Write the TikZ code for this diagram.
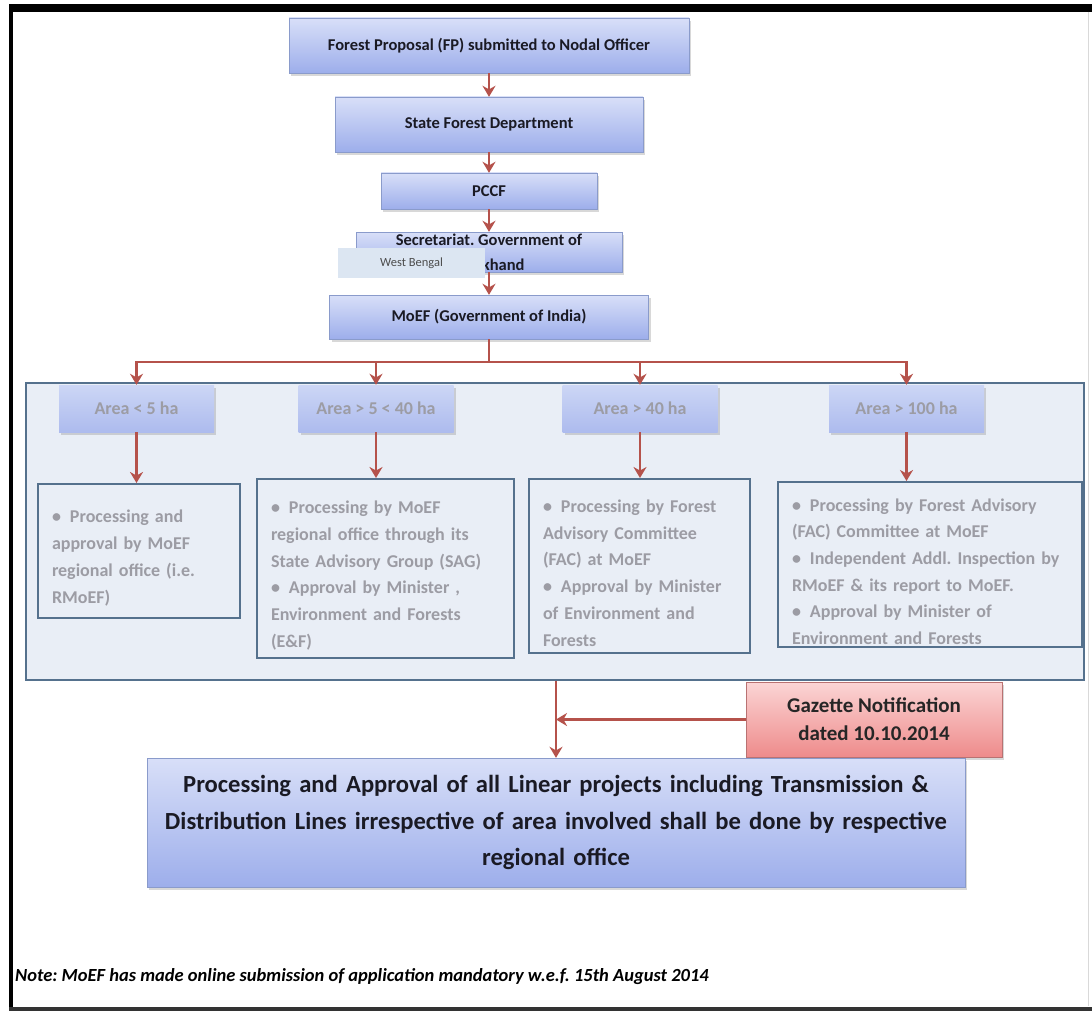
\documentclass[tikz,border=0pt]{standalone}
\usepackage{fontspec}
\setmainfont{Carlito}
\usepackage{tikz}
\usetikzlibrary{arrows.meta,shadows,positioning}
\definecolor{boxtop}{HTML}{D8DFF8}
\definecolor{boxbot}{HTML}{9DAEEB}
\definecolor{boxline}{HTML}{8A9BCB}
\definecolor{boxtext}{HTML}{1A1A24}
\definecolor{fadetop}{HTML}{CCD6F5}
\definecolor{fadebot}{HTML}{ADBBEE}
\definecolor{fadetext}{HTML}{9C9CA4}
\definecolor{panelfill}{HTML}{E9EEF6}
\definecolor{panelline}{HTML}{55718D}
\definecolor{gaztop}{HTML}{FBD5D5}
\definecolor{gazbot}{HTML}{EE8B8B}
\definecolor{gazline}{HTML}{B97272}
\definecolor{arrowred}{HTML}{B5524B}
\definecolor{wbfill}{HTML}{DCE6F2}
\frenchspacing
\newcommand{\itm}{\par\hangindent=18pt\hangafter=1\noindent\makebox[18pt][l]{\textbullet}}
\tikzset
{
    flowbox/.style  = {draw=boxline, top color=boxtop, bottom color=boxbot, text=boxtext, align=center, inner sep=0pt, font=\fontsize{16.5}{25}\selectfont\bfseries, drop shadow={opacity=0.3, shadow xshift=2pt, shadow yshift=-3pt}},
    areabox/.style  = {flowbox, draw=none, top color=fadetop, bottom color=fadebot, text=fadetext, minimum width=155, minimum height=47, font=\fontsize{18}{20}\selectfont\bfseries},
    infobox/.style  = {draw=panelline, line width=2pt, fill=panelfill, text=fadetext, align=left, inner xsep=14pt, inner ysep=0pt, font=\fontsize{18}{26.7}\selectfont\bfseries},
    panel/.style    = {draw=panelline, line width=2pt, fill=panelfill, inner sep=0pt},
    gazbox/.style   = {flowbox, draw=gazline, top color=gaztop, bottom color=gazbot, text=black!85, font=\fontsize{21}{28}\selectfont\bfseries},
    finalbox/.style = {flowbox, font=\fontsize{24.6}{36.5}\selectfont\bfseries},
    link/.style     = {draw=arrowred, line width=2.5pt}
}
\begin{document}
\begin{tikzpicture}[x=1pt, y=-1pt, ->, >={Stealth[length=11pt, width=13pt]}]
    \useasboundingbox (0,0) rectangle (1092,1011);
    \fill[white] (0,0) rectangle (1092,1011);
    \fill[black] (9,4) rectangle (1092,12);
    \fill[black] (9,4) rectangle (13,1011);
    \fill[black!80] (9,1007) rectangle (1092,1011);
    \draw[-, black!15, line width=1pt] (1088,12) -- (1088,1006);

    \node [flowbox, minimum width=400, minimum height=55] (fp) at (489,45.5) {Forest Proposal (FP) submitted to Nodal Officer};
    \node [flowbox, minimum width=308, minimum height=55] (sfd) at (489,124.5) {State Forest Department};
    \node [flowbox, minimum width=216, minimum height=36] (pccf) at (489,191) {PCCF};
    \node [flowbox, minimum width=266, minimum height=40] (sec) at (489,252) {Secretariat. Government of\\Jharkhand};
    \node [fill=wbfill, inner sep=0pt, minimum width=147, minimum height=30, text=black!70, font=\fontsize{12.5}{14}\selectfont] (wb) at (411.5,263) {West Bengal};
    \node [flowbox, minimum width=319, minimum height=44] (moef) at (489,317) {MoEF (Government of India)};

    \draw [link] (fp) -- (sfd);
    \draw [link] (sfd) -- (pccf);
    \draw [link] (pccf) -- (sec);
    \draw [link] (sec) -- (moef);

    \node [panel, minimum width=1058, minimum height=297] (area) at (555,531.5) {};
    \coordinate (bus) at (489,362);

    \node [areabox] (a1) at (136.5,408.5) {Area < 5 ha};
    \node [areabox] (a2) at (376,408.5) {Area > 5 < 40 ha};
    \node [areabox] (a3) at (640,408.5) {Area > 40 ha};
    \node [areabox] (a4) at (906.5,408.5) {Area > 100 ha};

    \draw [link, -] (moef) -- (bus);
    \draw [link] (bus) -| (a1);
    \draw [link] (bus) -| (a2);
    \draw [link] (bus) -| (a3);
    \draw [link] (bus) -| (a4);

    \node [infobox, text width=174, minimum height=134] (d1) at (139,551)
        {\itm Processing and\\approval by MoEF\\regional office (i.e.\\RMoEF)};
    \node [infobox, text width=229, minimum height=179] (d2) at (385.5,568.5)
        {\itm Processing by MoEF\\regional office through its\\State Advisory Group (SAG)
         \itm Approval by Minister ,\\Environment and Forests\\(E\&F)};
    \node [infobox, text width=193, minimum height=174] (d3) at (639.5,566)
        {\itm Processing by Forest\\Advisory Committee\\(FAC) at MoEF
         \itm Approval by Minister\\of Environment and\\Forests};
    \node [infobox, text width=276, minimum height=165] (d4) at (930,564.5)
        {\itm Processing by Forest Advisory\\(FAC) Committee at MoEF
         \itm Independent Addl. Inspection by\\RMoEF \& its report to MoEF.
         \itm Approval by Minister of\\Environment and Forests};

    \draw [link] (a1) -- (a1 |- d1.north);
    \draw [link] (a2) -- (a2 |- d2.north);
    \draw [link] (a3) -- (a3 |- d3.north);
    \draw [link] (a4) -- (a4 |- d4.north);

    \node [gazbox, minimum width=256, minimum height=75] (gaz) at (874,719.5) {Gazette Notification\\dated 10.10.2014};
    \node [finalbox, minimum width=818, minimum height=129, text width=806] (final) at (556,822.5)
        {Processing and Approval of all Linear projects including Transmission \&\\Distribution Lines irrespective of area involved shall be done by respective\\regional office};

    \draw [link] (area.south -| final) -- (final);
    \draw [link] (gaz) -- (gaz.west -| final);

    \node [anchor=west, inner sep=0pt, font=\fontsize{18.5}{22}\selectfont\bfseries\itshape] (note) at (15,977)
        {Note: MoEF has made online submission of application mandatory w.e.f. 15th August 2014};
\end{tikzpicture}
\end{document}
